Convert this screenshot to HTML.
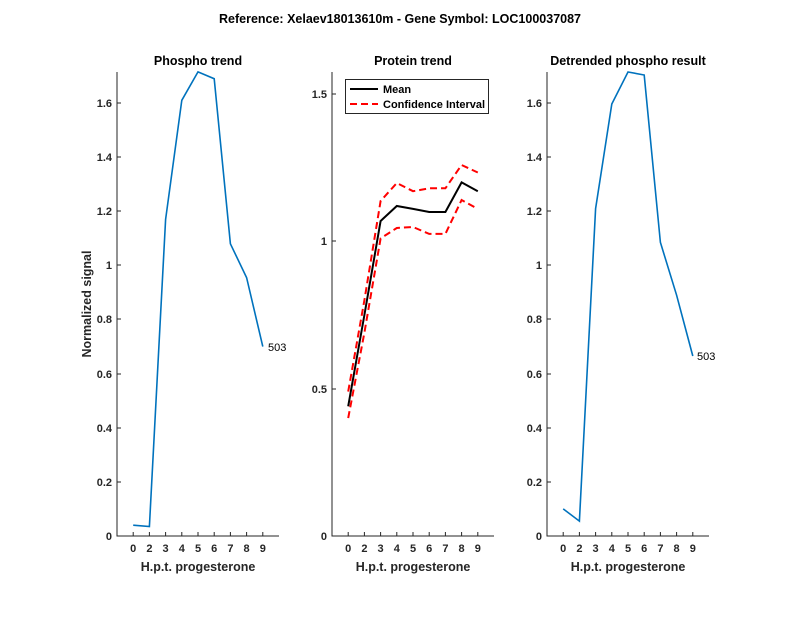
<!DOCTYPE html>
<html><head><meta charset="utf-8"><style>
body{margin:0;background:#fff}
svg{display:block;font-family:"Liberation Sans",Arial,sans-serif}
.t{font-size:11px;fill:#262626}
.b{font-weight:bold}
</style></head><body>
<svg width="800" height="618" viewBox="0 0 800 618">
<rect width="800" height="618" fill="#fff"/>
<text x="400" y="23" text-anchor="middle" font-size="12.5" font-weight="bold" fill="#000">Reference:  Xelaev18013610m - Gene Symbol:  LOC100037087</text>

<!-- Left panel -->
<g stroke="#262626" stroke-width="1" fill="none">
<path d="M117 72V536H279"/>
<path d="M117 536h4M117 482h4M117 428h4M117 374h4M117 319h4M117 265h4M117 211h4M117 157h4M117 103h4"/>
<path d="M133.2 536v-4M149.4 536v-4M165.6 536v-4M181.8 536v-4M198 536v-4M214.2 536v-4M230.4 536v-4M246.6 536v-4M262.8 536v-4"/>
</g>
<g class="t b" text-anchor="end">
<text x="112" y="540">0</text><text x="112" y="486">0.2</text><text x="112" y="432">0.4</text><text x="112" y="378">0.6</text><text x="112" y="323">0.8</text><text x="112" y="269">1</text><text x="112" y="215">1.2</text><text x="112" y="161">1.4</text><text x="112" y="107">1.6</text>
</g>
<g class="t b" text-anchor="middle">
<text x="133.2" y="552">0</text><text x="149.4" y="552">2</text><text x="165.6" y="552">3</text><text x="181.8" y="552">4</text><text x="198" y="552">5</text><text x="214.2" y="552">6</text><text x="230.4" y="552">7</text><text x="246.6" y="552">8</text><text x="262.8" y="552">9</text>
</g>
<text x="198" y="571" text-anchor="middle" font-size="12.5" font-weight="bold" fill="#262626">H.p.t. progesterone</text>
<text x="198" y="65" text-anchor="middle" font-size="12.5" font-weight="bold" fill="#000">Phospho trend</text>
<text transform="translate(91 304) rotate(-90)" text-anchor="middle" font-size="12.5" font-weight="bold" fill="#262626">Normalized signal</text>
<polyline fill="none" stroke="#0072BD" stroke-width="1.6" points="133.2,525.2 149.4,526.5 165.6,219.4 181.8,100.3 198,71.9 214.2,78.7 230.4,243.8 246.6,277.6 262.8,346.6"/>
<text x="268" y="351" font-size="11" fill="#000">503</text>

<!-- Middle panel -->
<g stroke="#262626" stroke-width="1" fill="none">
<path d="M332 72V536H494"/>
<path d="M332 536h4M332 389h4M332 241h4M332 94h4"/>
<path d="M348.2 536v-4M364.4 536v-4M380.6 536v-4M396.8 536v-4M413 536v-4M429.2 536v-4M445.4 536v-4M461.6 536v-4M477.8 536v-4"/>
</g>
<g class="t b" text-anchor="end">
<text x="327" y="540">0</text><text x="327" y="393">0.5</text><text x="327" y="245">1</text><text x="327" y="98">1.5</text>
</g>
<g class="t b" text-anchor="middle">
<text x="348.2" y="552">0</text><text x="364.4" y="552">2</text><text x="380.6" y="552">3</text><text x="396.8" y="552">4</text><text x="413" y="552">5</text><text x="429.2" y="552">6</text><text x="445.4" y="552">7</text><text x="461.6" y="552">8</text><text x="477.8" y="552">9</text>
</g>
<text x="413" y="571" text-anchor="middle" font-size="12.5" font-weight="bold" fill="#262626">H.p.t. progesterone</text>
<text x="413" y="65" text-anchor="middle" font-size="12.5" font-weight="bold" fill="#000">Protein trend</text>
<polyline fill="none" stroke="#f00" stroke-width="2" stroke-dasharray="7,4" points="348.2,391.6 364.4,300.2 380.6,201 396.8,183 413,191.2 429.2,188.3 445.4,188.3 461.6,165 477.8,172.5"/>
<polyline fill="none" stroke="#f00" stroke-width="2" stroke-dasharray="7,4" points="348.2,418.1 364.4,332.7 380.6,238.4 396.8,228 413,227 429.2,233.9 445.4,233.9 461.6,200 477.8,208.9"/>
<polyline fill="none" stroke="#000" stroke-width="2" points="348.2,406.3 364.4,315 380.6,221 396.8,206 413,208.9 429.2,212 445.4,212 461.6,182.4 477.8,191.2"/>
<rect x="345.5" y="79.5" width="143" height="34" fill="#fff" stroke="#262626" stroke-width="1"/>
<line x1="350" y1="89" x2="378" y2="89" stroke="#000" stroke-width="2"/>
<line x1="350" y1="104" x2="378" y2="104" stroke="#f00" stroke-width="2" stroke-dasharray="7,4"/>
<text x="383" y="93" class="b" font-size="11" fill="#000">Mean</text>
<text x="383" y="108" class="b" font-size="11" fill="#000">Confidence Interval</text>

<!-- Right panel -->
<g stroke="#262626" stroke-width="1" fill="none">
<path d="M547 72V536H709"/>
<path d="M547 536h4M547 482h4M547 428h4M547 374h4M547 319h4M547 265h4M547 211h4M547 157h4M547 103h4"/>
<path d="M563.2 536v-4M579.4 536v-4M595.6 536v-4M611.8 536v-4M628 536v-4M644.2 536v-4M660.4 536v-4M676.6 536v-4M692.8 536v-4"/>
</g>
<g class="t b" text-anchor="end">
<text x="542" y="540">0</text><text x="542" y="486">0.2</text><text x="542" y="432">0.4</text><text x="542" y="378">0.6</text><text x="542" y="323">0.8</text><text x="542" y="269">1</text><text x="542" y="215">1.2</text><text x="542" y="161">1.4</text><text x="542" y="107">1.6</text>
</g>
<g class="t b" text-anchor="middle">
<text x="563.2" y="552">0</text><text x="579.4" y="552">2</text><text x="595.6" y="552">3</text><text x="611.8" y="552">4</text><text x="628" y="552">5</text><text x="644.2" y="552">6</text><text x="660.4" y="552">7</text><text x="676.6" y="552">8</text><text x="692.8" y="552">9</text>
</g>
<text x="628" y="571" text-anchor="middle" font-size="12.5" font-weight="bold" fill="#262626">H.p.t. progesterone</text>
<text x="628" y="65" text-anchor="middle" font-size="12.5" font-weight="bold" fill="#000">Detrended phospho result</text>
<polyline fill="none" stroke="#0072BD" stroke-width="1.6" points="563.2,508.9 579.4,521.1 595.6,208.6 611.8,104 628,72 644.2,75 660.4,242.4 676.6,295.2 692.8,356"/>
<text x="697" y="360" font-size="11" fill="#000">503</text>
</svg>
</body></html>
